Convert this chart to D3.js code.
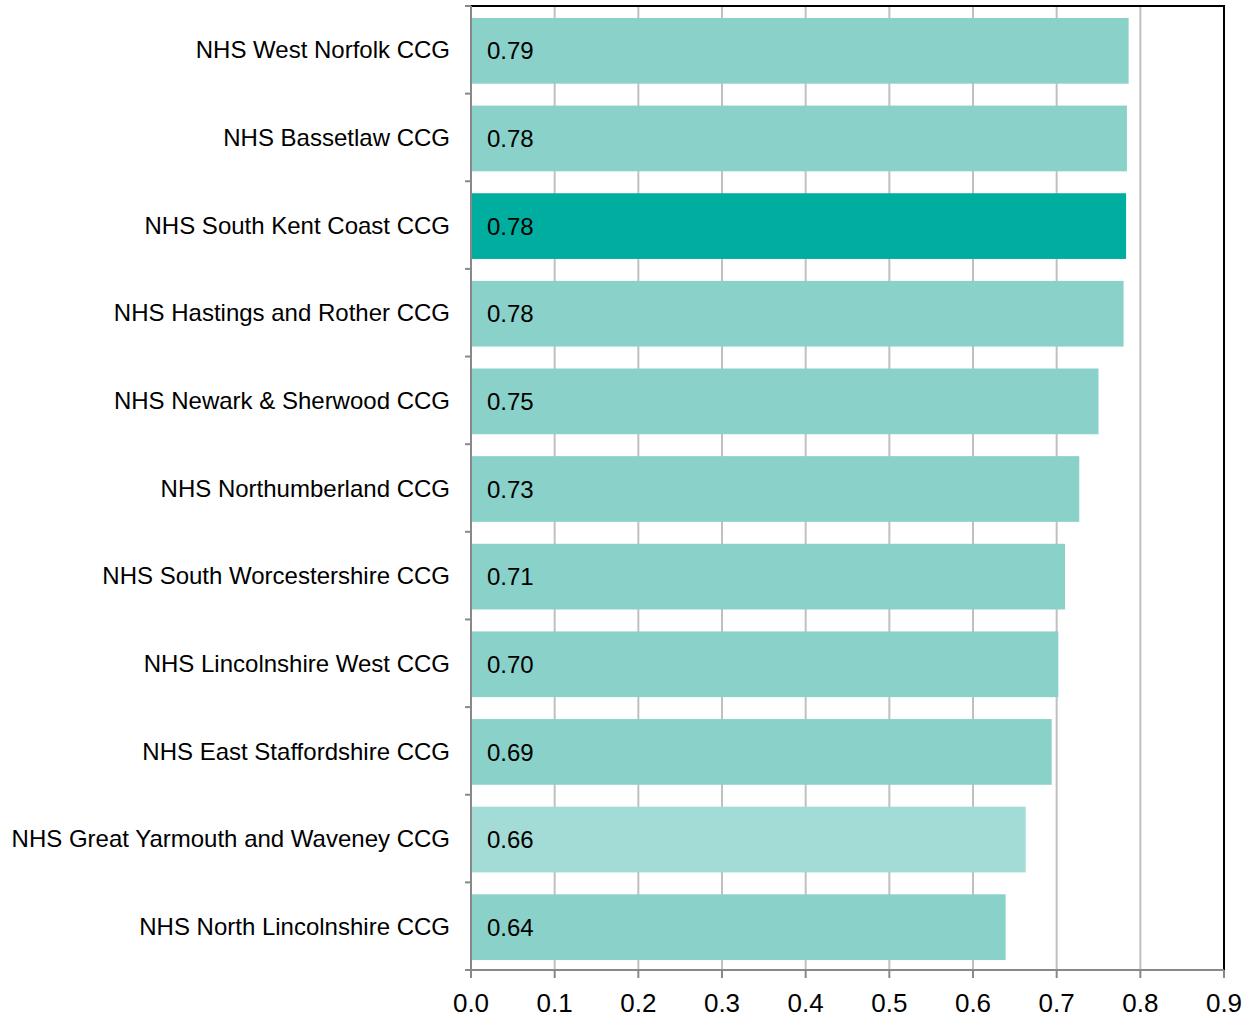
<!DOCTYPE html>
<html><head><meta charset="utf-8">
<script src="https://cdn.jsdelivr.net/npm/d3@7"></script>
<style>body{margin:0;background:#fff;} svg{display:block;font-family:"Liberation Sans",Arial,sans-serif;}</style>
</head><body>
<svg id="c" width="1246" height="1017"></svg>
<script>
const categories = ["NHS West Norfolk CCG","NHS Bassetlaw CCG","NHS South Kent Coast CCG","NHS Hastings and Rother CCG","NHS Newark & Sherwood CCG","NHS Northumberland CCG","NHS South Worcestershire CCG","NHS Lincolnshire West CCG","NHS East Staffordshire CCG","NHS Great Yarmouth and Waveney CCG","NHS North Lincolnshire CCG"];
const values = [0.786,0.784,0.783,0.780,0.750,0.727,0.710,0.702,0.694,0.663,0.639];
const valueLabels = ["0.79","0.78","0.78","0.78","0.75","0.73","0.71","0.70","0.69","0.66","0.64"];
const barKind = ["normal","normal","highlight","normal","normal","normal","normal","normal","normal","light","normal"];
const xTicks = [0,0.1,0.2,0.3,0.4,0.5,0.6,0.7,0.8,0.9];
const colors = {normal:"#8ad1ca", highlight:"#00ae9f", light:"#a3dbd6"};

const svg = d3.select("#c");
const L = 471, R = 1224, T = 6, B = 970;
const x = d3.scaleLinear().domain([0,0.9]).range([L,R]);
const y = d3.scaleBand().domain(categories).range([T,B]).paddingInner(0.25).paddingOuter(0.125);

// gridlines
svg.append("g").selectAll("line").data(xTicks.filter(t=>t>0 && t<0.9)).join("line")
  .attr("x1",d=>x(d)).attr("x2",d=>x(d)).attr("y1",T).attr("y2",B)
  .attr("stroke","#c0c0c0").attr("stroke-width",2);

// bars
svg.append("g").selectAll("rect").data(categories).join("rect")
  .attr("x",L).attr("y",d=>y(d)+1).attr("height",y.bandwidth())
  .attr("width",(d,i)=>x(values[i])-L)
  .attr("fill",(d,i)=>colors[barKind[i]]);

// value labels
svg.append("g").selectAll("text").data(categories).join("text")
  .attr("x",487).attr("y",d=>y(d)+1+y.bandwidth()/2).attr("dy","0.36em")
  .attr("font-size",24).attr("fill","#000")
  .text((d,i)=>valueLabels[i]);

// top and right border
svg.append("path").attr("d",`M${L-6},${T}H${R}V${B}`).attr("fill","none").attr("stroke","#000").attr("stroke-width",2);

// left axis
const step = (B-T)/categories.length;
const bounds = d3.range(categories.length+1).map(i=>T+i*step);
svg.append("line").attr("x1",L).attr("x2",L).attr("y1",T).attr("y2",B+6).attr("stroke","#888").attr("stroke-width",2);
svg.append("g").selectAll("line").data(bounds).join("line")
  .attr("x1",L-6).attr("x2",L).attr("y1",d=>d).attr("y2",d=>d).attr("stroke","#888").attr("stroke-width",2);
svg.append("g").selectAll("text").data(categories).join("text")
  .attr("x",450).attr("y",d=>y(d)+y.bandwidth()/2).attr("dy","0.36em")
  .attr("text-anchor","end").attr("font-size",24).attr("fill","#000").text(d=>d);

// bottom axis
svg.append("line").attr("x1",L-6).attr("x2",R).attr("y1",B).attr("y2",B).attr("stroke","#888").attr("stroke-width",2);
svg.append("g").selectAll("line").data(xTicks).join("line")
  .attr("x1",d=>x(d)).attr("x2",d=>x(d)).attr("y1",B).attr("y2",B+8).attr("stroke","#888").attr("stroke-width",2);
svg.append("g").selectAll("text").data(xTicks).join("text")
  .attr("x",d=>x(d)).attr("y",1003).attr("dy","0.36em").attr("text-anchor","middle")
  .attr("font-size",26).attr("fill","#000").text(d=>d3.format(".1f")(d));
</script>
</body></html>
